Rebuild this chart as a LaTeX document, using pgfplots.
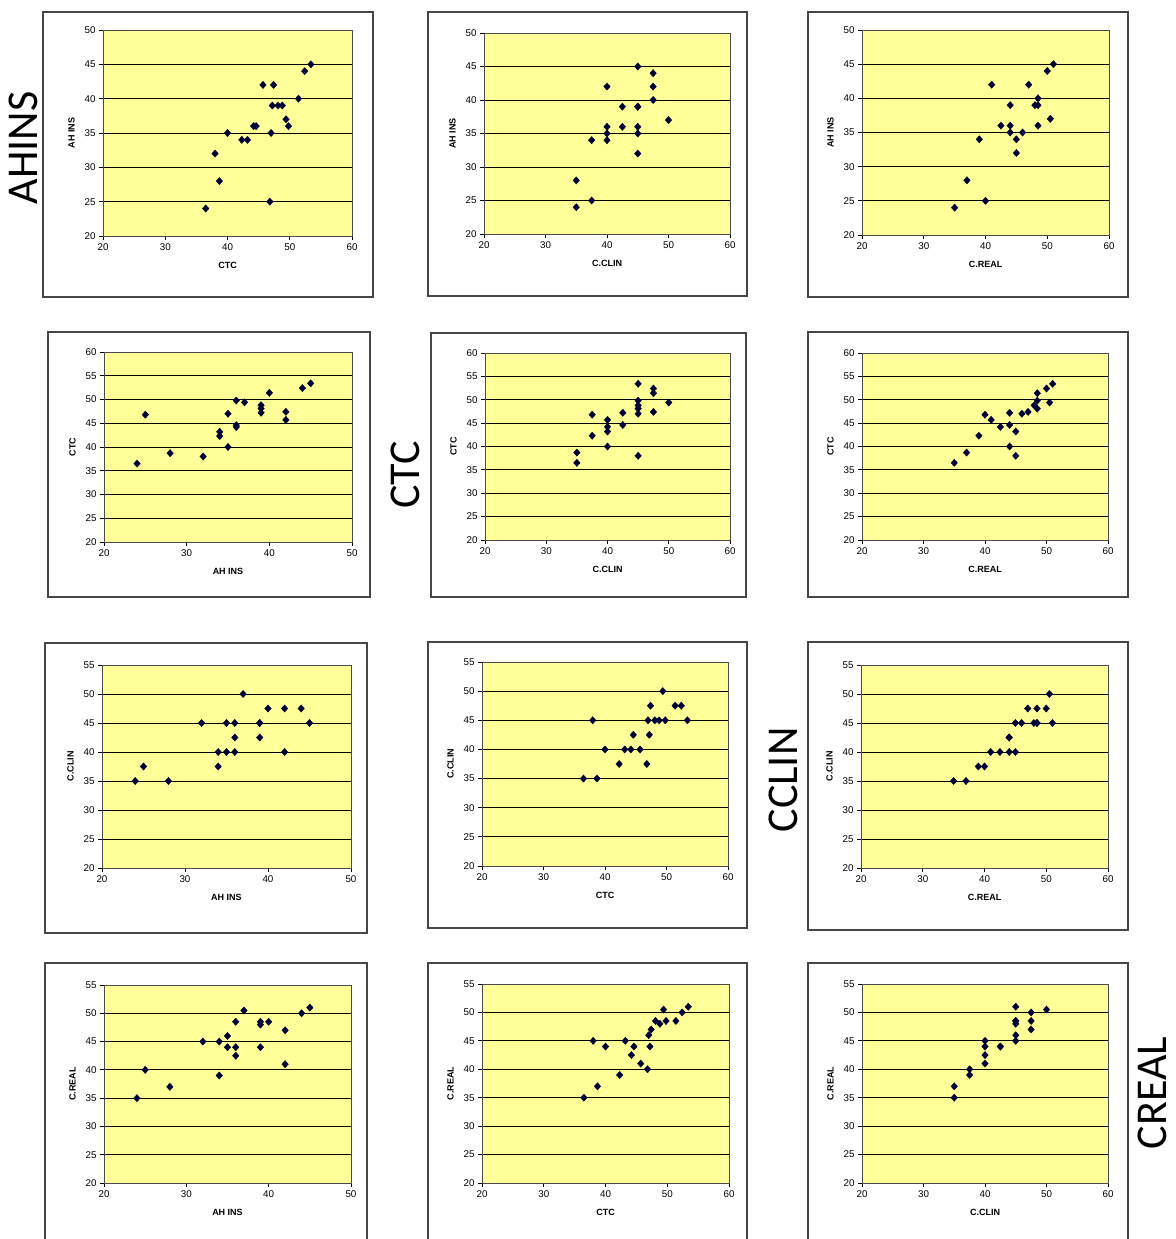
\documentclass[border=0pt]{standalone}
\usepackage{fontspec}
\setmainfont{Liberation Sans}
\newfontfamily\bigfont{Carlito}
\usepackage{pgfplots}
\usepackage{pgfplotstable}
\pgfplotsset{compat=1.18}
\definecolor{plotbg}{RGB}{255,255,153}
\definecolor{markc}{RGB}{0,0,50}
\definecolor{framec}{RGB}{70,70,70}
\pgfplotstableread{
AH CTC CLIN REAL
24 36.5 35 35
25 46.8 37.5 40
28 38.7 35 37
32 38.0 45 45
34 42.3 37.5 39
34 43.2 40 45
35 40.0 40 44
35 47.0 45 46
36 44.2 40 42.5
36 44.6 42.5 44
36 49.8 45 48.5
37 49.4 50 50.5
39 47.2 42.5 44
39 48.1 45 48.5
39 48.8 45 48
40 51.4 47.5 48.5
42 45.7 40 41
42 47.4 47.5 47
44 52.4 47.5 50
45 53.4 45 51
}\data
\pgfplotsset{
 panel/.style={
  scale only axis, anchor=south west,
  axis background/.style={fill=plotbg},
  axis line style={draw=gray!60!black, line width=0.8pt},
  ymajorgrids, grid style={black, line width=0.8pt},
  xtick pos=left, ytick pos=left,
  tick align=outside, major tick length=4pt,
  tick style={black, line width=0.8pt},
  /pgf/number format/assume math mode=true,
  tick label style={font=\fontsize{9.8}{11}\selectfont},
  label style={font=\bfseries\fontsize{9}{11}\selectfont},
  xtick distance=10, ytick distance=5,
  xlabel shift=5pt, ylabel shift=3pt,
  clip=false,
 },
 pts/.style={only marks, mark=diamond*, mark size=3.6pt, color=markc, mark options={xscale=1.2}},
}
\begin{document}
\begin{tikzpicture}
\useasboundingbox (0,0) rectangle (1175pt,1239pt);
% frames
\begin{scope}[draw=framec, line width=1.2pt]
\draw (43pt,942pt) rectangle (373pt,1227pt);
\draw (428pt,943pt) rectangle (747pt,1227pt);
\draw (808pt,942pt) rectangle (1128pt,1227pt);
\draw (48pt,642pt) rectangle (370pt,907pt);
\draw (431pt,642pt) rectangle (746pt,906pt);
\draw (808pt,642pt) rectangle (1128pt,907pt);
\draw (45pt,306pt) rectangle (367pt,596pt);
\draw (428pt,311pt) rectangle (747pt,597pt);
\draw (808pt,309pt) rectangle (1128pt,597pt);
\draw (45pt,-10pt) rectangle (367pt,276pt);
\draw (428pt,-10pt) rectangle (747pt,276pt);
\draw (808pt,-10pt) rectangle (1128pt,276pt);
\end{scope}
% row labels
\node[rotate=90, font=\bigfont\fontsize{44}{48}\selectfont] at (23pt,1091pt) {AHINS};
\node[rotate=90, font=\bigfont\fontsize{44}{48}\selectfont] at (405pt,764pt) {CTC};
\node[rotate=90, font=\bigfont\fontsize{44}{48}\selectfont] at (783pt,459pt) {CCLIN};
\node[rotate=90, font=\bigfont\fontsize{44}{48}\selectfont] at (1152pt,146pt) {CREAL};
% Row 1
\begin{axis}[panel, at={(103pt,1003pt)}, width=249pt, height=206pt,
  xmin=20, xmax=60, ymin=20, ymax=50, xlabel={CTC}, ylabel={AH INS}]
\addplot[pts] table[x=CTC, y=AH] {\data};
\end{axis}
\begin{axis}[panel, at={(484pt,1005pt)}, width=246pt, height=201pt,
  xmin=20, xmax=60, ymin=20, ymax=50, xlabel={C.CLIN}, ylabel={AH INS}]
\addplot[pts] table[x=CLIN, y=AH] {\data};
\end{axis}
\begin{axis}[panel, at={(862pt,1004pt)}, width=247pt, height=205pt,
  xmin=20, xmax=60, ymin=20, ymax=50, xlabel={C.REAL}, ylabel={AH INS}]
\addplot[pts] table[x=REAL, y=AH] {\data};
\end{axis}
% Row 2
\begin{axis}[panel, at={(104pt,697pt)}, width=248pt, height=190pt,
  xmin=20, xmax=50, ymin=20, ymax=60, xlabel={AH INS}, ylabel={CTC}]
\addplot[pts] table[x=AH, y=CTC] {\data};
\end{axis}
\begin{axis}[panel, at={(485pt,699pt)}, width=245pt, height=187pt,
  xmin=20, xmax=60, ymin=20, ymax=60, xlabel={C.CLIN}, ylabel={CTC}]
\addplot[pts] table[x=CLIN, y=CTC] {\data};
\end{axis}
\begin{axis}[panel, at={(862pt,699pt)}, width=246pt, height=187pt,
  xmin=20, xmax=60, ymin=20, ymax=60, xlabel={C.REAL}, ylabel={CTC}]
\addplot[pts] table[x=REAL, y=CTC] {\data};
\end{axis}
% Row 3
\begin{axis}[panel, at={(102pt,371pt)}, width=249pt, height=203pt,
  xmin=20, xmax=50, ymin=20, ymax=55, xlabel={AH INS}, ylabel={C.CLIN}]
\addplot[pts] table[x=AH, y=CLIN] {\data};
\end{axis}
\begin{axis}[panel, at={(482pt,373pt)}, width=246pt, height=204pt,
  xmin=20, xmax=60, ymin=20, ymax=55, xlabel={CTC}, ylabel={C.CLIN}]
\addplot[pts] table[x=CTC, y=CLIN] {\data};
\end{axis}
\begin{axis}[panel, at={(861pt,371pt)}, width=247pt, height=203pt,
  xmin=20, xmax=60, ymin=20, ymax=55, xlabel={C.REAL}, ylabel={C.CLIN}]
\addplot[pts] table[x=REAL, y=CLIN] {\data};
\end{axis}
% Row 4
\begin{axis}[panel, at={(104pt,56pt)}, width=247pt, height=198pt,
  xmin=20, xmax=50, ymin=20, ymax=55, xlabel={AH INS}, ylabel={C.REAL}]
\addplot[pts] table[x=AH, y=REAL] {\data};
\end{axis}
\begin{axis}[panel, at={(482pt,56pt)}, width=247pt, height=199pt,
  xmin=20, xmax=60, ymin=20, ymax=55, xlabel={CTC}, ylabel={C.REAL}]
\addplot[pts] table[x=CTC, y=REAL] {\data};
\end{axis}
\begin{axis}[panel, at={(862pt,56pt)}, width=246pt, height=199pt,
  xmin=20, xmax=60, ymin=20, ymax=55, xlabel={C.CLIN}, ylabel={C.REAL}]
\addplot[pts] table[x=CLIN, y=REAL] {\data};
\end{axis}
\end{tikzpicture}
\end{document}
